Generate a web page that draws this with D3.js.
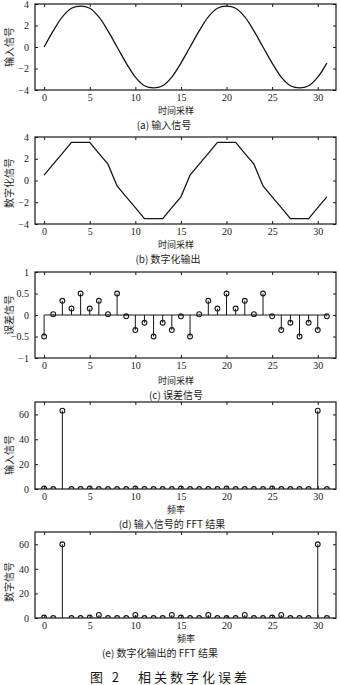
<!DOCTYPE html>
<html><head><meta charset="utf-8">
<script src="https://cdn.jsdelivr.net/npm/d3@7"></script>
<style>
html,body{margin:0;padding:0;background:#fff;}
svg{display:block;}
text{fill:#1a1a1a;}
.tk{font-family:"Liberation Serif","DejaVu Serif",serif;font-size:10px;}
.cn{font-family:"Noto Sans CJK SC",sans-serif;font-size:9px;}
</style></head>
<body>
<svg id="c" width="340" height="685"></svg>
<script>
// ---------- data ----------
const samples = d3.range(32);
const inputSignal = [0, 1.5, 2.8, 3.6, 3.8, 3.6, 2.8, 1.5, 0, -1.5, -2.8, -3.6, -3.8, -3.6, -2.8, -1.5,
                     0, 1.5, 2.8, 3.6, 3.8, 3.6, 2.8, 1.5, 0, -1.5, -2.8, -3.6, -3.8, -3.6, -2.8, -1.5];
const digitalOutput = [0.5, 1.5, 2.5, 3.5, 3.5, 3.5, 2.5, 1.5, -0.5, -1.5, -2.5, -3.5, -3.5, -3.5, -2.5, -1.5,
                       0.5, 1.5, 2.5, 3.5, 3.5, 3.5, 2.5, 1.5, -0.5, -1.5, -2.5, -3.5, -3.5, -3.5, -2.5, -1.5];
const errorSignal = [-0.5, 0.02, 0.33, 0.15, 0.5, 0.15, 0.33, 0.02, 0.5, -0.03, -0.35, -0.18, -0.5, -0.18, -0.35, -0.03,
                     -0.5, 0.02, 0.33, 0.15, 0.5, 0.15, 0.33, 0.02, 0.5, -0.03, -0.35, -0.18, -0.5, -0.18, -0.35, -0.03];
const fftInput = [0.4, 0, 63, 0, 0, 0.4, 0, 0, 0, 0, 0.4, 0, 0, 0, 0, 0.4,
                  0, 0, 0, 0, 0.4, 0, 0, 0, 0, 0.4, 0, 0, 0, 0, 63, 0];
const fftOutput = [0.4, 0, 60, 0, 0, 0.4, 2.5, 0, 0, 0, 2.5, 0, 0, 0, 2.5, 0.4,
                   0, 0, 2.5, 0, 0, 0, 2.5, 0, 0, 0.4, 2.5, 0, 0, 0, 60, 0];
const xTicks = [0, 5, 10, 15, 20, 25, 30];
const ticks4 = [-4, -2, 0, 2, 4];
const ticks1 = [-1, -0.5, 0, 0.5, 1];
const ticks60 = [0, 20, 40, 60];
const yLabels = ["输入信号", "数字化信号", "误差信号", "输入信号", "数字信号"];
const xLabels = ["时间采样", "时间采样", "时间采样", "频率", "频率"];
const captions = ["(a) 输入信号", "(b) 数字化输出", "(c) 误差信号", "(d) 输入信号的 FFT 结果", "(e) 数字化输出的 FFT 结果"];
const figTitle = "图 2　相关数字化误差";

// ---------- layout ----------
const svg = d3.select("#c");
const L = 35, R = 336;
const x = d3.scaleLinear().domain([-1, 32]).range([L, R]);
const ink = "#161616";

const panels = [
  {top: 4,   bottom: 90,  dom: [-4, 4],  ticks: ticks4,  type: "line", data: inputSignal,  ylc: 47,  xlx: 176, xly: 114, capx: 164, capy: 129},
  {top: 137, bottom: 224, dom: [-4, 4],  ticks: ticks4,  type: "line", data: digitalOutput, ylc: 183, xlx: 176, xly: 248, capx: 168, capy: 263},
  {top: 272, bottom: 358, dom: [-1, 1],  ticks: ticks1,  type: "stem", data: errorSignal,  ylc: 315, xlx: 176, xly: 384, capx: 176, capy: 399},
  {top: 402, bottom: 489, dom: [0, 70],  ticks: ticks60, type: "stem", data: fftInput,     ylc: 455, xlx: 176, xly: 513, capx: 172, capy: 528},
  {top: 532, bottom: 618, dom: [0, 70],  ticks: ticks60, type: "stem", data: fftOutput,    ylc: 582, xlx: 186, xly: 642, capx: 160, capy: 657}
];

panels.forEach((p, i) => {
  const y = d3.scaleLinear().domain(p.dom).range([p.bottom, p.top]);
  const g = svg.append("g");
  const clipId = "clip" + i;
  svg.append("clipPath").attr("id", clipId).append("rect")
    .attr("x", L).attr("y", p.top).attr("width", R - L).attr("height", p.bottom - p.top);

  const plot = g.append("g").attr("clip-path", `url(#${clipId})`);
  if (p.type === "line") {
    const line = d3.line().x((d, k) => x(samples[k])).y(d => y(d));
    if (i === 0) line.curve(d3.curveCatmullRom);
    plot.append("path").datum(p.data).attr("d", line)
      .attr("fill", "none").attr("stroke", ink).attr("stroke-width", 1.3);
  } else {
    if (p.dom[0] < 0) {
      plot.append("line").attr("x1", x(0)).attr("x2", x(31)).attr("y1", y(0)).attr("y2", y(0))
        .attr("stroke", ink).attr("stroke-width", 1);
    }
    plot.selectAll("line.stem").data(p.data).join("line").attr("class", "stem")
      .attr("x1", (d, k) => x(samples[k])).attr("x2", (d, k) => x(samples[k]))
      .attr("y1", y(0)).attr("y2", d => y(d))
      .attr("stroke", ink).attr("stroke-width", 1);
    plot.selectAll("circle").data(p.data).join("circle")
      .attr("cx", (d, k) => x(samples[k])).attr("cy", d => y(d)).attr("r", 2.4)
      .attr("fill", "none").attr("stroke", ink).attr("stroke-width", 1.1);
  }

  const ax = d3.axisBottom(x).tickValues(xTicks).tickSizeInner(-3).tickSizeOuter(0).tickPadding(4).tickFormat(d3.format("d"));
  const gx = g.append("g").attr("transform", `translate(0,${p.bottom})`).call(ax);
  const axT = d3.axisTop(x).tickValues(xTicks).tickSizeInner(-3).tickSizeOuter(0).tickFormat("");
  const gxt = g.append("g").attr("transform", `translate(0,${p.top})`).call(axT);
  const fmt = p.dom[1] === 1 ? (d => d === 0 ? "0" : d3.format("")(d)) : d3.format("d");
  const ay = d3.axisLeft(y).tickValues(p.ticks).tickSizeInner(-3).tickSizeOuter(0).tickPadding(6).tickFormat(fmt);
  const gy = g.append("g").attr("transform", `translate(${L},0)`).call(ay);
  const ayR = d3.axisRight(y).tickValues(p.ticks).tickSizeInner(-3).tickSizeOuter(0).tickFormat("");
  const gyr = g.append("g").attr("transform", `translate(${R},0)`).call(ayR);
  [gx, gxt, gy, gyr].forEach(a => {
    a.select(".domain").remove();
    a.selectAll("line").attr("stroke", ink);
    a.selectAll("text").attr("class", "tk").attr("fill", ink);
  });
  gx.selectAll("text").attr("dy", "0.71em");
  g.append("rect").attr("x", L).attr("y", p.top).attr("width", R - L).attr("height", p.bottom - p.top)
    .attr("fill", "none").attr("stroke", ink).attr("stroke-width", 1.2);

  g.append("text").attr("class", "cn").attr("text-anchor", "middle")
    .attr("transform", `translate(13,${p.ylc}) rotate(-90)`).style("font-size", "10px").text(yLabels[i]);
  g.append("text").attr("class", "cn").attr("text-anchor", "middle")
    .attr("x", p.xlx).attr("y", p.xly).text(xLabels[i]);
  g.append("text").attr("class", "cn").attr("text-anchor", "middle")
    .attr("x", p.capx).attr("y", p.capy).style("font-size", "10px").text(captions[i]);
});

svg.append("text").attr("x", 170).attr("y", 682).attr("text-anchor", "middle")
  .style("font-family", "'Noto Sans CJK SC',sans-serif").style("font-size", "13px")
  .style("letter-spacing", "3px").text(figTitle);
</script>
</body></html>
